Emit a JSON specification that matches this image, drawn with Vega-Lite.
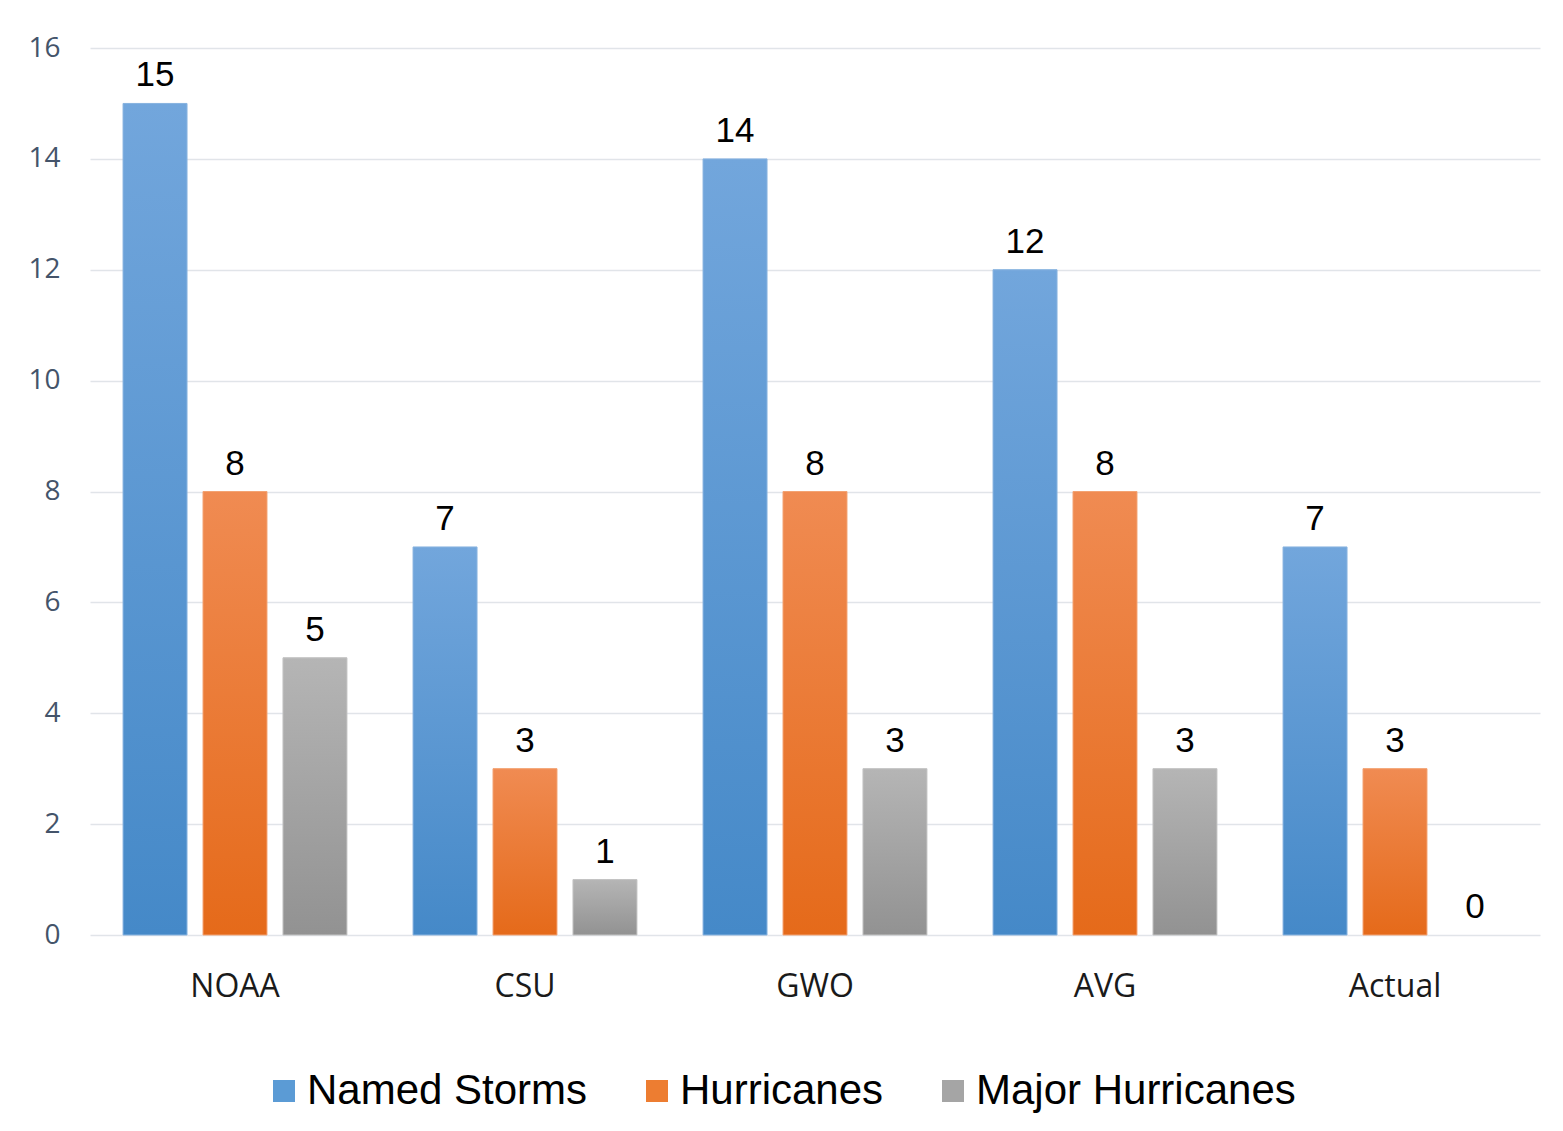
{
  "$schema": "https://vega.github.io/schema/vega-lite/v6.json",
  "width": 1450,
  "height": 887,
  "autosize": {"type": "none"},
  "padding": {"left": 90, "top": 48, "right": 23, "bottom": 196},
  "background": "white",
  "config": {"view": {"stroke": null}},
  "data": {"values": [
    {"source": "NOAA", "series": "Named Storms", "value": 15},
    {"source": "NOAA", "series": "Hurricanes", "value": 8},
    {"source": "NOAA", "series": "Major Hurricanes", "value": 5},
    {"source": "CSU", "series": "Named Storms", "value": 7},
    {"source": "CSU", "series": "Hurricanes", "value": 3},
    {"source": "CSU", "series": "Major Hurricanes", "value": 1},
    {"source": "GWO", "series": "Named Storms", "value": 14},
    {"source": "GWO", "series": "Hurricanes", "value": 8},
    {"source": "GWO", "series": "Major Hurricanes", "value": 3},
    {"source": "AVG", "series": "Named Storms", "value": 12},
    {"source": "AVG", "series": "Hurricanes", "value": 8},
    {"source": "AVG", "series": "Major Hurricanes", "value": 3},
    {"source": "Actual", "series": "Named Storms", "value": 7},
    {"source": "Actual", "series": "Hurricanes", "value": 3},
    {"source": "Actual", "series": "Major Hurricanes", "value": 0}
  ]},
  "encoding": {
    "x": {
      "field": "source", "type": "nominal", "sort": null,
      "scale": {"paddingInner": 0.228, "paddingOuter": 0.114},
      "axis": {"title": null, "domain": false, "ticks": false, "labelAngle": 0,
               "labelFont": "Open Sans", "labelFontSize": 32, "labelColor": "#1a1a1a",
               "labelPadding": 36}
    },
    "xOffset": {
      "field": "series", "type": "nominal",
      "sort": ["Named Storms", "Hurricanes", "Major Hurricanes"],
      "scale": {"paddingInner": 0.2, "paddingOuter": 0}
    },
    "y": {
      "field": "value", "type": "quantitative",
      "scale": {"domain": [0, 16]},
      "axis": {"title": null, "domain": false, "ticks": false,
               "values": [0, 2, 4, 6, 8, 10, 12, 14, 16], "labelOverlap": false,
               "labelFont": "Open Sans", "labelFontSize": 28, "labelColor": "#44546a",
               "labelPadding": 30, "gridColor": "#e1e4e9", "gridWidth": 1.5}
    }
  },
  "layer": [
    {
      "mark": {"type": "bar"},
      "encoding": {
        "color": {
          "field": "series", "type": "nominal",
          "sort": ["Named Storms", "Hurricanes", "Major Hurricanes"],
          "scale": {"domain": ["Named Storms", "Hurricanes", "Major Hurricanes"],
                    "range": ["#5b9bd5", "#ed7d31", "#a5a5a5"]},
          "legend": {
            "title": null, "orient": "none", "direction": "horizontal",
            "legendX": 173, "legendY": 1022,
            "symbolType": "square", "symbolSize": 484, "symbolStrokeWidth": 0,
            "labelFont": "Liberation Sans", "labelFontSize": 42, "labelColor": "#000000",
            "labelOffset": 2, "columnPadding": 48, "labelLimit": 600
          }
        }
      }
    },
    {
      "transform": [{"filter": "datum.series === 'Named Storms' && datum.value > 0"}],
      "mark": {"type": "bar", "stroke": "#8ab4e0", "strokeWidth": 1,
        "fill": {"gradient": "linear", "x1": 0, "y1": 0, "x2": 0, "y2": 1,
          "stops": [{"offset": 0, "color": "#72a6dc"}, {"offset": 1, "color": "#4589c8"}]}},
      "encoding": {}
    },
    {
      "transform": [{"filter": "datum.series === 'Hurricanes' && datum.value > 0"}],
      "mark": {"type": "bar", "stroke": "#f3a373", "strokeWidth": 1,
        "fill": {"gradient": "linear", "x1": 0, "y1": 0, "x2": 0, "y2": 1,
          "stops": [{"offset": 0, "color": "#f08b52"}, {"offset": 1, "color": "#e56a1a"}]}},
      "encoding": {}
    },
    {
      "transform": [{"filter": "datum.series === 'Major Hurricanes' && datum.value > 0"}],
      "mark": {"type": "bar", "stroke": "#c4c4c4", "strokeWidth": 1,
        "fill": {"gradient": "linear", "x1": 0, "y1": 0, "x2": 0, "y2": 1,
          "stops": [{"offset": 0, "color": "#b5b5b5"}, {"offset": 1, "color": "#929292"}]}},
      "encoding": {}
    },
    {
      "mark": {"type": "text", "baseline": "alphabetic", "dy": -17,
               "font": "Liberation Sans", "fontSize": 35, "color": "#000000"},
      "encoding": {"text": {"field": "value", "type": "quantitative"}}
    }
  ]
}
